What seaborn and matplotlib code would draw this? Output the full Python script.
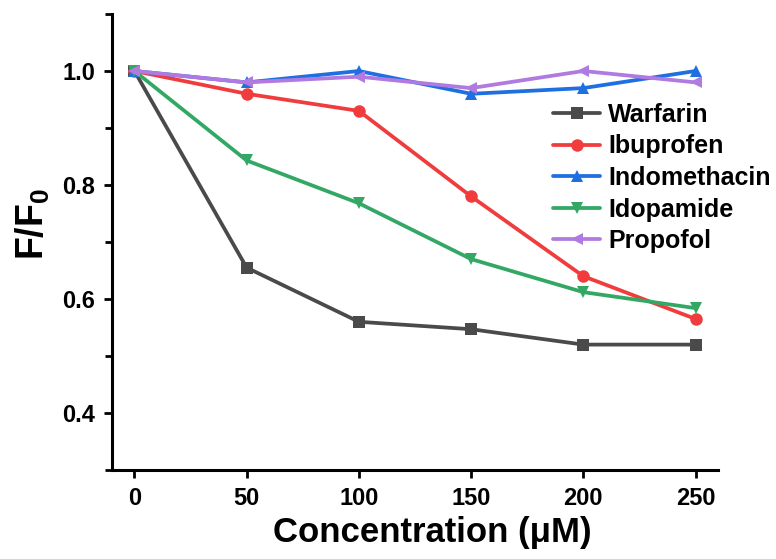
import matplotlib
matplotlib.use("Agg")
import matplotlib.pyplot as plt
import seaborn as sns
import pandas as pd
from matplotlib.ticker import MultipleLocator

concentration = [0, 50, 100, 150, 200, 250]
warfarin = [1.0, 0.655, 0.56, 0.547, 0.52, 0.52]
ibuprofen = [1.0, 0.96, 0.93, 0.78, 0.64, 0.565]
indomethacin = [1.0, 0.98, 1.0, 0.96, 0.97, 1.0]
idopamide = [1.0, 0.843, 0.768, 0.67, 0.612, 0.584]
propofol = [1.0, 0.98, 0.99, 0.97, 1.0, 0.98]
drugs = ["Warfarin", "Ibuprofen", "Indomethacin", "Idopamide", "Propofol"]
series = [warfarin, ibuprofen, indomethacin, idopamide, propofol]
colors = ["#4a4a4a", "#f03c3c", "#1e6fe0", "#33a865", "#b07ae0"]
markers = ["s", "o", "^", "v", "<"]

rows = []
for d, vals in zip(drugs, series):
    for c, v in zip(concentration, vals):
        rows.append({"Concentration": c, "F": v, "Drug": d})
df = pd.DataFrame(rows)

sns.set_theme(style="ticks")
plt.rcParams["font.family"] = ["Liberation Sans", "DejaVu Sans"]
plt.rcParams["font.weight"] = "bold"
plt.rcParams["text.color"] = "black"
plt.rcParams["axes.labelcolor"] = "black"
plt.rcParams["xtick.color"] = "black"
plt.rcParams["ytick.color"] = "black"
plt.rcParams["mathtext.fontset"] = "custom"
plt.rcParams["mathtext.rm"] = "Liberation Sans:bold"
plt.rcParams["mathtext.it"] = "Liberation Sans:bold"
plt.rcParams["mathtext.bf"] = "Liberation Sans:bold"

fig = plt.figure(figsize=(7.76, 5.59), dpi=100)
ax = fig.add_axes([112/776, 1-470/559, (718-112)/776, (470-14)/559])

sns.lineplot(data=df, x="Concentration", y="F", hue="Drug", style="Drug",
             hue_order=drugs, style_order=drugs,
             palette=dict(zip(drugs, colors)), markers=dict(zip(drugs, markers)),
             dashes=False, linewidth=2.7, markersize=9, markeredgewidth=0,
             ax=ax, legend=True)

ax.set_xlim(-10, 260)
ax.set_ylim(0.3, 1.1)
ax.set_xticks(concentration)
ax.yaxis.set_minor_locator(MultipleLocator(0.1))
ax.set_yticks([0.4, 0.6, 0.8, 1.0])
ax.set_yticklabels(["0.4", "0.6", "0.8", "1.0"])

for s in ["top", "right"]:
    ax.spines[s].set_visible(False)
for s in ["left", "bottom"]:
    ax.spines[s].set_linewidth(2.2)
    ax.spines[s].set_color("black")

ax.tick_params(axis="both", which="major", length=6, width=2, direction="out",
               labelsize=17, colors="black", pad=6)
ax.tick_params(axis="y", which="minor", length=5, width=2, direction="out")
for lab in ax.get_xticklabels() + ax.get_yticklabels():
    lab.set_fontweight("bold")

ax.set_xlabel("Concentration (\u03bcM)", fontsize=25, fontweight="bold")
ax.xaxis.set_label_coords((432 - 112) / 606, -(516 - 470) / 456)
ax.set_ylabel("F/F$_0$", fontsize=27, fontweight="bold")
ax.yaxis.set_label_coords((52 - 112) / 606, (470 - 224) / 456)

handles, labels = ax.get_legend_handles_labels()
ax.legend(handles, labels, loc="upper left", bbox_to_anchor=(553/776, 1-103/559),
          bbox_transform=fig.transFigure, frameon=False, borderpad=0,
          borderaxespad=0, handlelength=1.88, handletextpad=0.32,
          labelspacing=0.3, prop={"size": 18, "weight": "bold"})

fig.savefig("out.png", dpi=100)
